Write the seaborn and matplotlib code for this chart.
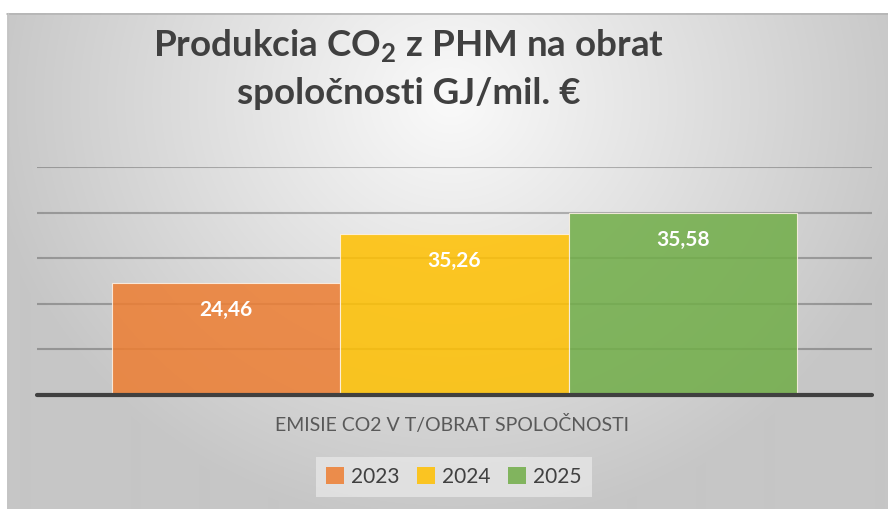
import numpy as np
import pandas as pd
import matplotlib
matplotlib.use("Agg")
import matplotlib.pyplot as plt
import matplotlib.patches as mpatches
import seaborn as sns

# ---- data ----
years = ["2023", "2024", "2025"]
bar_heights = [24.46, 35.26, 40.0]          # bar heights as drawn in the picture
bar_labels = ["24,46", "35,26", "35,58"]     # data labels as printed on the bars
colors = ["#ED7D31", "#FFC000", "#70AD47"]
category = "EMISIE CO2 V T/OBRAT SPOLOČNOSTI"
title_line1 = "Produkcia CO$_\\mathregular{2}$ z PHM na obrat"
title_line2 = "spoločnosti GJ/mil. €"

sns.set_theme(style="white")
plt.rcParams["font.family"] = ["Lato", "DejaVu Sans"]

W, H = 888, 509
fig = plt.figure(figsize=(W / 100, H / 100), dpi=100)
fig.patch.set_facecolor("white")

def fx(px):
    return px / W

def fy(py):
    return 1 - py / H

# ---- gradient background ----
bg = fig.add_axes([fx(7), 0, fx(W - 7), (H - 13) / H], zorder=-10)
yy, xx = np.mgrid[13:H, 7:W]
r = np.sqrt(((xx - 450) / 470.0) ** 2 + ((yy - 100) / 430.0) ** 2)
r = np.clip(r, 0, 1)
vals = (250 - 52 * r ** 1.0) / 255.0
img = np.dstack([vals, vals, vals])
bg.imshow(img, aspect="auto", extent=[0, 1, 0, 1], interpolation="bilinear")
bg.axis("off")
# border lines of the chart area
fig.add_artist(plt.Line2D([fx(7), 1], [fy(13.5), fy(13.5)], color="#b4b4b4", lw=1.2))
fig.add_artist(plt.Line2D([fx(7.5), fx(7.5)], [0, fy(13)], color="#c4c4c4", lw=1.0))

# ---- plot axes ----
ax = fig.add_axes([fx(37), (H - 395) / H, fx(835), (395 - 167) / H])
ax.patch.set_alpha(0)
df = pd.DataFrame({"year": years, "value": bar_heights})
sns.barplot(data=df, x="year", y="value", hue="year", palette=colors,
            width=1.0, alpha=0.85, edgecolor="#fff3e6", linewidth=0.8,
            legend=False, ax=ax, zorder=2, saturation=1)
ax.set_xlim(-0.826, 2.826)
ax.set_ylim(0, 50)
ax.set_yticks([10, 20, 30, 40, 50])
ax.grid(axis="y", color="black", alpha=0.25, lw=1.5, zorder=0)
ax.set_axisbelow(True)
ax.axhline(0, color="#404040", lw=3, zorder=3, clip_on=False)
for s in ax.spines.values():
    s.set_visible(False)
ax.set_xticks([])
ax.set_yticklabels([])
ax.tick_params(left=False, bottom=False)
ax.set_xlabel("")
ax.set_ylabel("")

for p, lab in zip(ax.patches, bar_labels):
    cx = p.get_x() + p.get_width() / 2
    top = p.get_height()
    ax.text(cx, top - 5.9, lab, ha="center", va="center", color="white",
            fontsize=15, fontweight="bold", zorder=5)

# ---- title ----
fig.text(fx(409), fy(57), title_line1, ha="center", va="baseline",
         fontsize=26.5, fontweight="bold", color="#404040")
fig.text(fx(409), fy(104), title_line2, ha="center", va="baseline",
         fontsize=26.5, fontweight="bold", color="#404040")

# ---- category label ----
fig.text(fx(452), fy(424), category, ha="center", va="center",
         fontsize=14, color="#595959")

# ---- legend ----
handles = [mpatches.Patch(facecolor=c, alpha=0.85, edgecolor="none", label=y)
           for c, y in zip(colors, years)]
leg = fig.legend(handles=handles, loc="center", bbox_to_anchor=(fx(454), fy(477)),
                 ncol=3, frameon=True, fontsize=15, handlelength=0.85,
                 handleheight=0.85, handletextpad=0.35, columnspacing=0.85,
                 borderpad=0.5, borderaxespad=0, fancybox=False)
leg.get_frame().set_facecolor("#e6e6e6")
leg.get_frame().set_edgecolor("none")
leg.get_frame().set_alpha(0.8)
for t in leg.get_texts():
    t.set_color("#404040")

fig.savefig("out.png", dpi=100)
